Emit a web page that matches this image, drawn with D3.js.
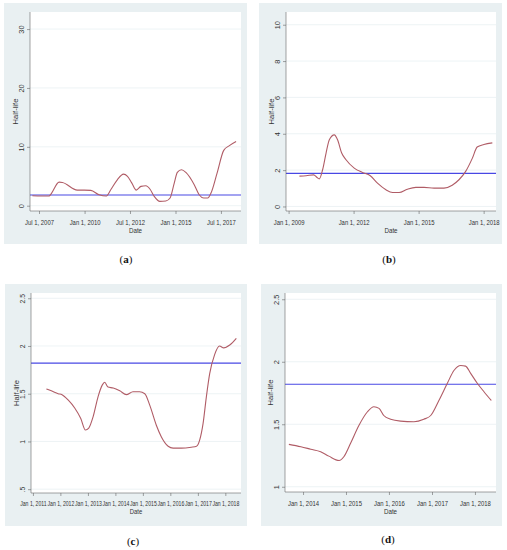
<!DOCTYPE html>
<html>
<head>
<meta charset="utf-8">
<script src="https://cdn.jsdelivr.net/npm/d3@7"></script>
<style>
  body { margin: 0; background: #fff; }
  svg { display: block; }
  .axis path, .axis line { stroke: #666; stroke-width: 0.6; }
  .axis text { fill: #333; font-family: "Liberation Sans", Arial, sans-serif; }
  .grid { stroke: #e9f0f2; stroke-width: 0.8; }
  .ttl { fill: #333; font-family: "Liberation Sans", Arial, sans-serif; }
  .plabel { font-family: "Liberation Serif", "DejaVu Serif", serif; font-size: 11px; fill: #111; }
</style>
</head>
<body>
<div id="chart"></div>
<script>
// ---- data (dates as decimal years) ----
const yearsA = [2007.13, 2008.05, 2008.18, 2008.6, 2008.78, 2009.6, 2009.98, 2010.34, 2010.8, 2011.2,
  2011.44, 2011.8, 2012.14, 2012.36, 2012.6, 2012.84, 2013.1, 2013.37, 2013.6, 2013.83,
  2014.14, 2014.47, 2014.7, 2014.93, 2015.1, 2015.33, 2015.57, 2016.03, 2016.3, 2016.55,
  2016.77, 2016.95, 2017.28, 2017.65, 2017.96, 2018.33];
const halfLifeA = [1.7, 1.64, 2.1, 4.0, 3.95, 2.65, 2.65, 2.6, 1.86, 1.64,
  2.7, 4.4, 5.37, 5.0, 3.84, 2.65, 3.28, 3.4, 2.8, 1.58,
  0.73, 0.8, 1.3, 3.84, 5.65, 6.1, 5.65, 3.56, 1.86, 1.3,
  1.3, 2.15, 5.5, 9.4, 10.2, 10.9];

const yearsB = [2009.5, 2009.81, 2010.16, 2010.3, 2010.42, 2010.57, 2010.73, 2010.88, 2011.11, 2011.26,
  2011.45, 2011.65, 2012.03, 2012.41, 2012.77, 2013.1, 2013.49, 2013.8, 2014.1, 2014.48,
  2014.87, 2015.25, 2015.71, 2016.17, 2016.55, 2016.86, 2017.17, 2017.48, 2017.7, 2018.01, 2018.4];
const halfLifeB = [1.67, 1.69, 1.74, 1.61, 1.52, 2.02, 2.94, 3.67, 3.94, 3.67,
  2.94, 2.57, 2.11, 1.87, 1.69, 1.28, 0.92, 0.77, 0.77, 0.95,
  1.05, 1.05, 1.01, 1.01, 1.17, 1.47, 1.93, 2.66, 3.27, 3.41, 3.5];

const yearsC = [2011.49, 2011.67, 2011.92, 2012.06, 2012.28, 2012.52, 2012.74, 2012.91, 2013.03, 2013.19,
  2013.37, 2013.52, 2013.61, 2013.73, 2013.92, 2014.16, 2014.4, 2014.64, 2014.88, 2015.07,
  2015.25, 2015.49, 2015.67, 2015.92, 2016.1, 2016.4, 2016.76, 2016.95, 2017.07, 2017.19,
  2017.31, 2017.43, 2017.61, 2017.79, 2017.94, 2018.16, 2018.4];
const halfLifeC = [1.55, 1.53, 1.5, 1.49, 1.435, 1.35, 1.24, 1.12, 1.14, 1.26,
  1.47, 1.59, 1.62, 1.57, 1.56, 1.53, 1.49, 1.52, 1.52, 1.5,
  1.38, 1.17, 1.05, 0.95, 0.93, 0.93, 0.94, 0.95, 1.02, 1.19,
  1.47, 1.71, 1.91, 2.0, 1.98, 2.01, 2.08];

const yearsD = [2013.67, 2013.95, 2014.18, 2014.41, 2014.6, 2014.84, 2014.95, 2015.11, 2015.3, 2015.5,
  2015.65, 2015.77, 2015.88, 2016.04, 2016.27, 2016.58, 2016.81, 2016.97, 2017.16, 2017.36,
  2017.51, 2017.67, 2017.78, 2017.9, 2018.05, 2018.21, 2018.38];
const halfLifeD = [1.339, 1.32, 1.3, 1.28, 1.245, 1.21, 1.24, 1.35, 1.49, 1.6,
  1.64, 1.627, 1.57, 1.54, 1.525, 1.52, 1.54, 1.57, 1.69, 1.83,
  1.93, 1.97, 1.965, 1.907, 1.83, 1.76, 1.69];

const threshold = 1.82;

const xTicksA = [[2007, 6], [2010, 0], [2012, 6], [2015, 0], [2017, 6]];
const xLabelsA = ['Jul 1, 2007', 'Jan 1, 2010', 'Jul 1, 2012', 'Jan 1, 2015', 'Jul 1, 2017'];
const xTicksB = [[2009, 0], [2012, 0], [2015, 0], [2018, 0]];
const xLabelsB = ['Jan 1, 2009', 'Jan 1, 2012', 'Jan 1, 2015', 'Jan 1, 2018'];
const xTicksC = [[2011, 0], [2012, 0], [2013, 0], [2014, 0], [2015, 0], [2016, 0], [2017, 0], [2018, 0]];
const xLabelsC = ['Jan 1, 2011', 'Jan 1, 2012', 'Jan 1, 2013', 'Jan 1, 2014', 'Jan 1, 2015', 'Jan 1, 2016', 'Jan 1, 2017', 'Jan 1, 2018'];
const xTicksD = [[2014, 0], [2015, 0], [2016, 0], [2017, 0], [2018, 0]];
const xLabelsD = ['Jan 1, 2014', 'Jan 1, 2015', 'Jan 1, 2016', 'Jan 1, 2017', 'Jan 1, 2018'];

const yTicksA = [0, 10, 20, 30];
const yLabelsA = ['0', '10', '20', '30'];
const yTicksB = [0, 2, 4, 6, 8, 10];
const yLabelsB = ['0', '2', '4', '6', '8', '10'];
const yTicksC = [0.5, 1, 1.5, 2, 2.5];
const yLabelsC = ['.5', '1', '1.5', '2', '2.5'];
const yTicksD = [1, 1.5, 2, 2.5];
const yLabelsD = ['1', '1.5', '2', '2.5'];

// decimal year -> Date
function toDate(y) {
  const yr = Math.floor(y);
  const start = new Date(yr, 0, 1), end = new Date(yr + 1, 0, 1);
  return new Date(+start + (y - yr) * (end - start));
}

const panels = [
  {letter: 'a', box: [4, 3, 243, 241], plot: [30, 12, 241, 211], xDom: [2007.0, 2018.6], yDom: [-0.9, 32.9],
   years: yearsA, values: halfLifeA, xTicks: xTicksA, xLabels: xLabelsA, yTicks: yTicksA, yLabels: yLabelsA,
   fs: 7.4, sx: 0.8, labelXY: [126, 263], dateY: 233},
  {letter: 'b', box: [259, 3, 243, 241], plot: [286, 12, 496, 211], xDom: [2008.88, 2018.57], yDom: [-0.25, 10.7],
   years: yearsB, values: halfLifeB, xTicks: xTicksB, xLabels: xLabelsB, yTicks: yTicksB, yLabels: yLabelsB,
   fs: 7.4, sx: 0.8, labelXY: [389, 263], dateY: 233},
  {letter: 'c', box: [5, 284, 242, 242], plot: [31, 293, 241, 493], xDom: [2010.93, 2018.57], yDom: [0.46, 2.555],
   years: yearsC, values: halfLifeC, xTicks: xTicksC, xLabels: xLabelsC, yTicks: yTicksC, yLabels: yLabelsC,
   fs: 6.8, sx: 0.76, labelXY: [133, 545], dateY: 514},
  {letter: 'd', box: [261, 284, 241, 242], plot: [285, 293, 496, 492], xDom: [2013.58, 2018.49], yDom: [0.958, 2.55],
   years: yearsD, values: halfLifeD, xTicks: xTicksD, xLabels: xLabelsD, yTicks: yTicksD, yLabels: yLabelsD,
   fs: 7.4, sx: 0.8, labelXY: [388, 543], dateY: 514}
];

const svg = d3.select('#chart').append('svg')
  .attr('width', 507)
  .attr('height', 550);

panels.forEach(p => {
  const [px0, py0, px1, py1] = p.plot;

  // graph region background
  svg.append('rect')
    .attr('x', p.box[0]).attr('y', p.box[1])
    .attr('width', p.box[2]).attr('height', p.box[3])
    .attr('fill', '#e9f0f2');

  // plot region
  svg.append('rect')
    .attr('x', px0).attr('y', py0)
    .attr('width', px1 - px0).attr('height', py1 - py0)
    .attr('fill', '#fff');

  const x = d3.scaleTime()
    .domain(p.xDom.map(toDate))
    .range([px0, px1]);
  const y = d3.scaleLinear()
    .domain(p.yDom)
    .range([py1, py0]);

  // gridlines
  svg.append('g').selectAll('line')
    .data(p.yTicks)
    .join('line')
    .attr('class', 'grid')
    .attr('x1', px0).attr('x2', px1)
    .attr('y1', d => y(d)).attr('y2', d => y(d));

  // threshold line
  svg.append('line')
    .attr('x1', x.range()[0]).attr('x2', x.range()[1])
    .attr('y1', y(threshold)).attr('y2', y(threshold))
    .attr('stroke', '#4848e4')
    .attr('stroke-width', 1.2);

  // half-life series
  const pts = p.years.map((yr, i) => ({date: toDate(yr), value: p.values[i]}));
  svg.append('path')
    .datum(pts)
    .attr('fill', 'none')
    .attr('stroke', '#b05c66')
    .attr('stroke-width', 1.1)
    .attr('d', d3.line()
      .curve(d3.curveMonotoneX)
      .x(d => x(d.date))
      .y(d => y(d.value)));

  // x axis
  const tickDates = p.xTicks.map(t => new Date(t[0], t[1], 1));
  const xAxis = svg.append('g')
    .attr('class', 'axis')
    .attr('transform', `translate(0,${py1})`)
    .call(d3.axisBottom(x)
      .tickValues(tickDates)
      .tickFormat((d, i) => p.xLabels[i])
      .tickSize(3)
      .tickSizeOuter(0)
      .tickPadding(5.3));
  xAxis.select('.domain').attr('d', `M${px0},0H${px1}`);
  xAxis.selectAll('text')
    .style('font-size', p.fs + 'px')
    .attr('transform', `scale(${p.sx},1)`);

  // y axis, labels rotated like Stata
  const yAxis = svg.append('g')
    .attr('class', 'axis')
    .attr('transform', `translate(${px0},0)`)
    .call(d3.axisLeft(y)
      .tickValues(p.yTicks)
      .tickFormat((d, i) => p.yLabels[i])
      .tickSize(3)
      .tickSizeOuter(0));
  yAxis.select('.domain').attr('d', `M0,${py0}V${py1}`);
  yAxis.selectAll('text')
    .attr('x', null)
    .attr('dy', null)
    .attr('text-anchor', 'middle')
    .style('font-size', p.fs + 'px')
    .attr('transform', 'translate(-6.5,0) rotate(-90)');

  // axis titles
  svg.append('text')
    .attr('class', 'ttl')
    .attr('text-anchor', 'middle')
    .attr('transform', `translate(${px0 - 12.5},${(py0 + py1) / 2}) rotate(-90)`)
    .style('font-size', '7.6px')
    .text('Half-life');
  svg.append('text')
    .attr('class', 'ttl')
    .attr('text-anchor', 'middle')
    .attr('transform', `translate(${(px0 + px1) / 2},${p.dateY}) scale(${p.sx},1)`)
    .style('font-size', '7.8px')
    .text('Date');

  // panel caption "(a)"
  const cap = svg.append('text')
    .attr('class', 'plabel')
    .attr('x', p.labelXY[0])
    .attr('y', p.labelXY[1])
    .attr('text-anchor', 'middle');
  cap.append('tspan').text('(');
  cap.append('tspan').attr('font-weight', 'bold').text(p.letter);
  cap.append('tspan').text(')');
});
</script>
</body>
</html>
